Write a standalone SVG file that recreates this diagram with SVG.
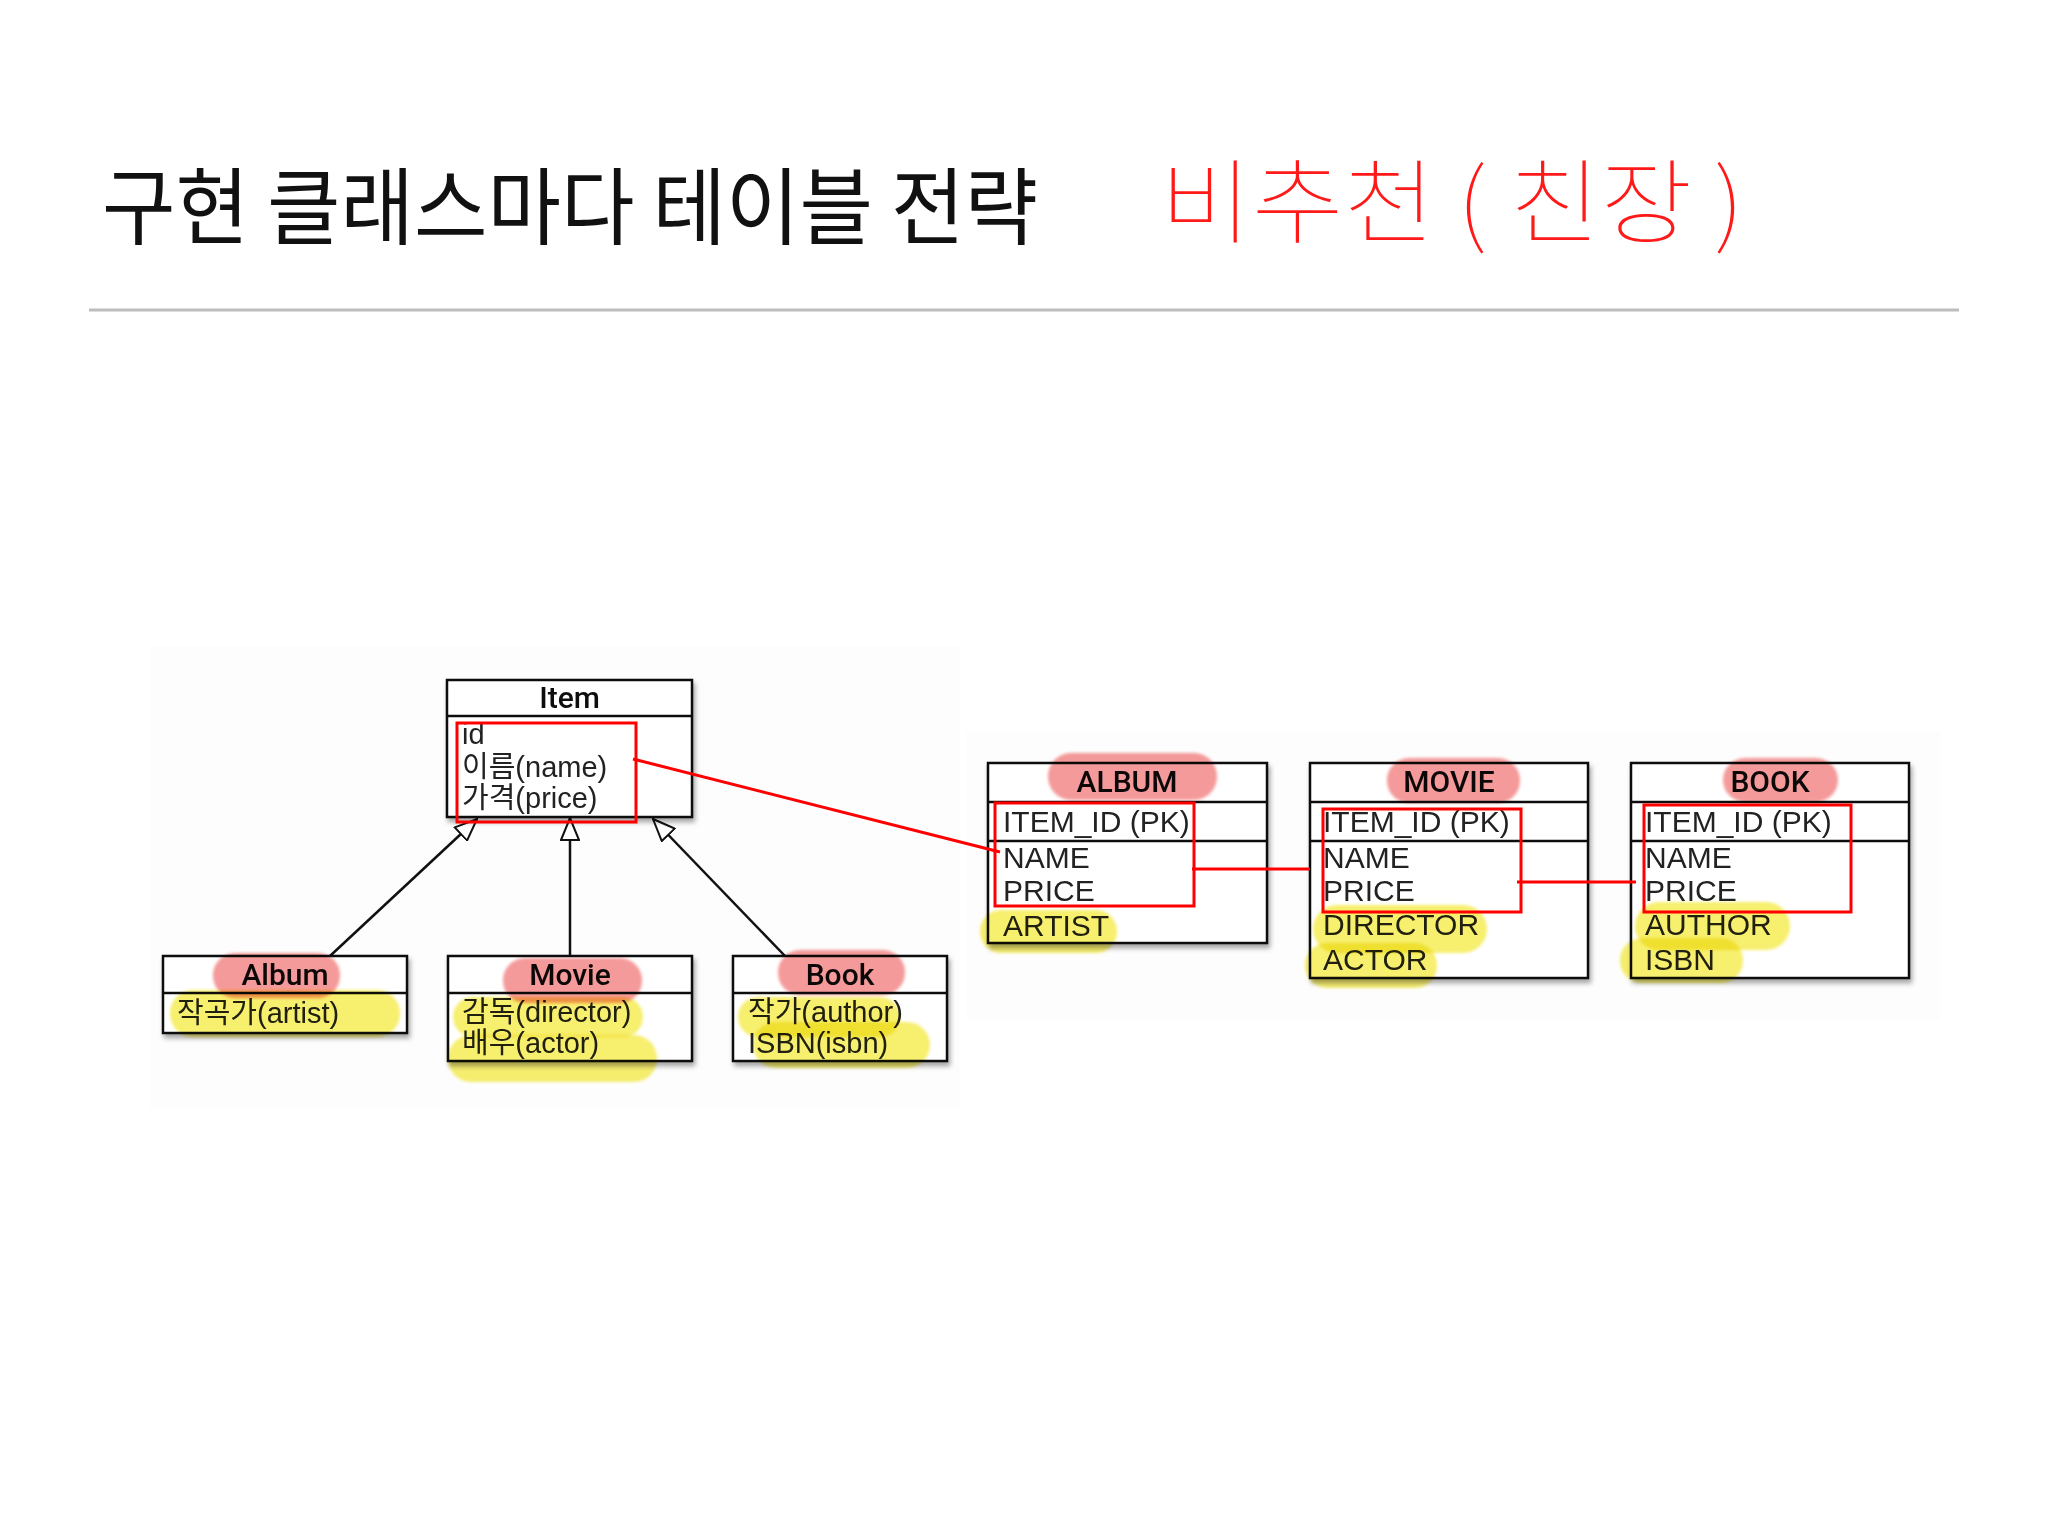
<svg xmlns="http://www.w3.org/2000/svg" width="2048" height="1536" viewBox="0 0 2048 1536">
<style>
.title{font-family:"Noto Sans CJK KR","Noto Sans",sans-serif;font-size:84px;fill:#111}
.hand{font-family:"Noto Sans CJK KR",sans-serif;font-size:92px;fill:#ff1a1a;font-weight:100}
.box{fill:#fff;stroke:#111;stroke-width:2.5}
.sep{stroke:#111;stroke-width:2.5}
.hdr{font-family:"Roboto","Liberation Sans",sans-serif;font-size:30px;font-weight:500;fill:#111;text-anchor:middle}
.attr{font-family:"Liberation Sans","Noto Sans CJK KR",sans-serif;font-size:29px;fill:#222}
.col{font-family:"Liberation Sans",sans-serif;font-size:30px;fill:#222}
.red{fill:none;stroke:#ff0000;stroke-width:3}
.pink{fill:#f59a9a;mix-blend-mode:multiply;filter:url(#soft)}
.yel{fill:#f7ef6e;mix-blend-mode:multiply;filter:url(#soft)}
.gen{stroke:#111;stroke-width:2.5;fill:none;marker-end:url(#tri)}
</style>
<defs>
<filter id="sh" x="-10%" y="-10%" width="130%" height="140%">
<feDropShadow dx="2" dy="4" stdDeviation="2.5" flood-color="#000" flood-opacity="0.35"/>
</filter>
<filter id="soft" x="-10%" y="-20%" width="120%" height="140%">
<feGaussianBlur stdDeviation="1.5"/>
</filter>
<marker id="tri" markerUnits="userSpaceOnUse" markerWidth="24" markerHeight="20" viewBox="0 0 24 20" refX="23" refY="10" orient="auto">
<path d="M1,1 L23,10 L1,19 Z" fill="#fff" stroke="#111" stroke-width="2"/>
</marker>
</defs>
<rect width="2048" height="1536" fill="#fff"/>
<rect x="150" y="646" width="810" height="462" fill="#fdfdfd"/>
<rect x="966" y="731" width="974" height="288" fill="#fdfdfd"/>

<g id="title">
<text class="title" x="102" y="238" textLength="936" lengthAdjust="spacingAndGlyphs">구현 클래스마다 테이블 전략</text>
<text class="hand" x="1160" y="236" textLength="584" lengthAdjust="spacingAndGlyphs">비추천 ( 친장 )</text>
<line x1="89" y1="310" x2="1959" y2="310" stroke="#bdbdbd" stroke-width="3"/>
</g>

<g id="connectors">
<line class="gen" x1="330" y1="956" x2="477" y2="819"/>
<line class="gen" x1="570" y1="956" x2="570" y2="818"/>
<line class="gen" x1="785" y1="956" x2="653" y2="819"/>
</g>

<g id="Item" filter="url(#sh)">
<rect class="box" x="447" y="680" width="245" height="137"/>
<line class="sep" x1="447" y1="716" x2="692" y2="716"/>
<text class="hdr" x="569.5" y="708">Item</text>
<text class="attr" x="462" y="744">id</text>
<text class="attr" x="462" y="777">이름(name)</text>
<text class="attr" x="462" y="808">가격(price)</text>
</g>

<g id="Album" filter="url(#sh)">
<rect class="box" x="163" y="956" width="244" height="77"/>
<line class="sep" x1="163" y1="993" x2="407" y2="993"/>
<text class="hdr" x="285" y="985">Album</text>
<text class="attr" x="177" y="1023">작곡가(artist)</text>
</g>

<g id="Movie" filter="url(#sh)">
<rect class="box" x="448" y="956" width="244" height="105"/>
<line class="sep" x1="448" y1="993" x2="692" y2="993"/>
<text class="hdr" x="570" y="985">Movie</text>
<text class="attr" x="462" y="1022">감독(director)</text>
<text class="attr" x="462" y="1053">배우(actor)</text>
</g>

<g id="Book" filter="url(#sh)">
<rect class="box" x="733" y="956" width="214" height="105"/>
<line class="sep" x1="733" y1="993" x2="947" y2="993"/>
<text class="hdr" x="840" y="985">Book</text>
<text class="attr" x="748" y="1022">작가(author)</text>
<text class="attr" x="748" y="1053">ISBN(isbn)</text>
</g>

<g id="ALBUM" filter="url(#sh)">
<rect class="box" x="988" y="763" width="279" height="180"/>
<line class="sep" x1="988" y1="802" x2="1267" y2="802"/>
<line class="sep" x1="988" y1="841" x2="1267" y2="841"/>
<text class="hdr" x="1127" y="792">ALBUM</text>
<text class="col" x="1003" y="832">ITEM_ID (PK)</text>
<text class="col" x="1003" y="868">NAME</text>
<text class="col" x="1003" y="901">PRICE</text>
<text class="col" x="1003" y="936">ARTIST</text>
</g>

<g id="MOVIE" filter="url(#sh)">
<rect class="box" x="1310" y="763" width="278" height="215"/>
<line class="sep" x1="1310" y1="802" x2="1588" y2="802"/>
<line class="sep" x1="1310" y1="841" x2="1588" y2="841"/>
<text class="hdr" x="1449" y="792">MOVIE</text>
<text class="col" x="1323" y="832">ITEM_ID (PK)</text>
<text class="col" x="1323" y="868">NAME</text>
<text class="col" x="1323" y="901">PRICE</text>
<text class="col" x="1323" y="935">DIRECTOR</text>
<text class="col" x="1323" y="970">ACTOR</text>
</g>

<g id="BOOK" filter="url(#sh)">
<rect class="box" x="1631" y="763" width="278" height="215"/>
<line class="sep" x1="1631" y1="802" x2="1909" y2="802"/>
<line class="sep" x1="1631" y1="841" x2="1909" y2="841"/>
<text class="hdr" x="1770" y="792">BOOK</text>
<text class="col" x="1645" y="832">ITEM_ID (PK)</text>
<text class="col" x="1645" y="868">NAME</text>
<text class="col" x="1645" y="901">PRICE</text>
<text class="col" x="1645" y="935">AUTHOR</text>
<text class="col" x="1645" y="970">ISBN</text>
</g>

<g id="highlights">
<rect class="pink" x="213" y="953" width="127" height="45" rx="22"/>
<rect class="pink" x="503" y="958" width="139" height="45" rx="22"/>
<rect class="pink" x="778" y="950" width="127" height="45" rx="22"/>
<rect class="pink" x="1048" y="753" width="169" height="47" rx="23"/>
<rect class="pink" x="1387" y="758" width="133" height="45" rx="22"/>
<rect class="pink" x="1723" y="758" width="115" height="44" rx="22"/>
<rect class="yel" x="170" y="990" width="230" height="47" rx="23"/>
<rect class="yel" x="453" y="997" width="190" height="40" rx="20"/>
<rect class="yel" x="448" y="1035" width="209" height="47" rx="23"/>
<rect class="yel" x="738" y="997" width="162" height="40" rx="20"/>
<rect class="yel" x="753" y="1022" width="177" height="46" rx="23"/>
<rect class="yel" x="980" y="910" width="137" height="43" rx="21"/>
<rect class="yel" x="1313" y="905" width="174" height="48" rx="24"/>
<rect class="yel" x="1305" y="943" width="132" height="45" rx="22"/>
<rect class="yel" x="1635" y="902" width="155" height="48" rx="24"/>
<rect class="yel" x="1620" y="938" width="123" height="45" rx="22"/>
</g>

<g id="annotations">
<rect class="red" x="457" y="723" width="179" height="99"/>
<rect class="red" x="995" y="803" width="199" height="103"/>
<rect class="red" x="1323" y="809" width="198" height="103"/>
<rect class="red" x="1644" y="805" width="207" height="107"/>
<line class="red" x1="633" y1="759" x2="1000" y2="852"/>
<line class="red" x1="1192" y1="869" x2="1310" y2="869"/>
<line class="red" x1="1517" y1="882" x2="1636" y2="882"/>
</g>
</svg>
